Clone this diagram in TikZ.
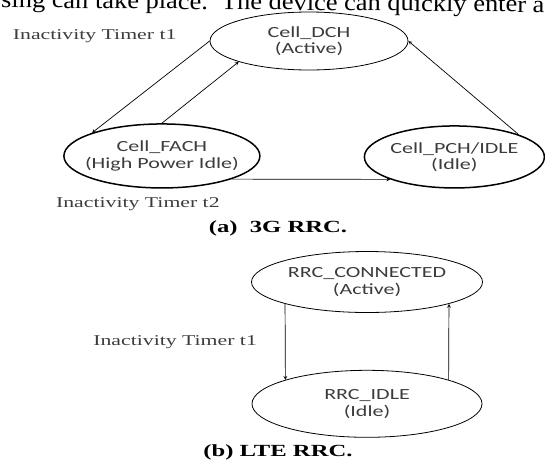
\documentclass[tikz,border=0pt]{standalone}
\usepackage{fontspec}
\setmainfont{Liberation Serif}
\newfontfamily\statefont[FakeStretch=1.42]{Carlito}
\newfontfamily\notefont[FakeStretch=1.45]{Liberation Serif}
\newfontfamily\bodyfont[FakeStretch=1.1]{Liberation Serif}
\usetikzlibrary{shapes,arrows,positioning}

\definecolor{inkgray}{HTML}{3C3C3C}

\begin{document}
\begin{tikzpicture}[
    x=1pt, y=-1pt,
    state/.style={ellipse, draw, line width=0.8pt, inner xsep=-20pt, inner ysep=0pt, align=center, text=inkgray, font=\statefont\fontsize{15.5}{16.5}\selectfont},
    heavy state/.style={state, line width=1.5pt},
    note/.style={inner sep=0pt, text=inkgray, font=\notefont\fontsize{15}{18}\selectfont},
    caption/.style={inner sep=0pt, font=\notefont\bfseries\fontsize{17}{20}\selectfont},
    arrow/.style={->,>=stealth, line width=0.7pt}
]
\useasboundingbox (0,0) rectangle (545,464);
\clip (0,0) rectangle (545,464);

% Running text cut at the top
\node[anchor=base west, inner sep=0pt, rotate=-0.5, font=\bodyfont\fontsize{24}{28}\selectfont] (bodytext) at (1,7.5) {sing can take place.\ \ The device can quickly enter a};

% (a) 3G states
\node[state, minimum width=198pt, minimum height=58pt] (dch) at (309,41) {Cell\_DCH\\(Active)};
\node[heavy state, minimum width=196pt, minimum height=64pt, below left=71pt and 7pt of dch] (fach) {Cell\_FACH\\(High Power Idle)};
\node[heavy state, minimum width=180pt, minimum height=62pt, right=103pt of fach, yshift=-1pt] (pch) {Cell\_PCH/IDLE\\(Idle)};

% Timer labels
\node[note, left=33pt of dch.west, yshift=5pt] (timerA1) {Inactivity Timer t1};
\node[note, below=9pt of fach.south, xshift=-24pt] (timerA2) {Inactivity Timer t2};

% Transitions
\draw[arrow] (dch.west) -- (fach.north west);
\draw[arrow] (fach.north) -- (dch.south west);
\draw[arrow] (pch.north east) -- (dch.east);
\draw[arrow] (fach.south east) -- (pch.south west);

\node[caption] (capA) at (278,228) {(a)\ \ 3G RRC.};

% (b) LTE states
\node[state, minimum width=231pt, minimum height=61pt] (conn) at (367,282) {RRC\_CONNECTED\\(Active)};
\node[state, minimum width=230pt, minimum height=67pt, below=57pt of conn] (idle) {RRC\_IDLE\\(Idle)};

\draw[arrow] (conn.south west) -- (idle.north west) node[note, midway, left=28pt] (timerB1) {Inactivity Timer t1};
\draw[arrow] (idle.north east) -- (conn.south east);

\node[caption] (capB) at (278,452) {(b) LTE RRC.};

\end{tikzpicture}
\end{document}
